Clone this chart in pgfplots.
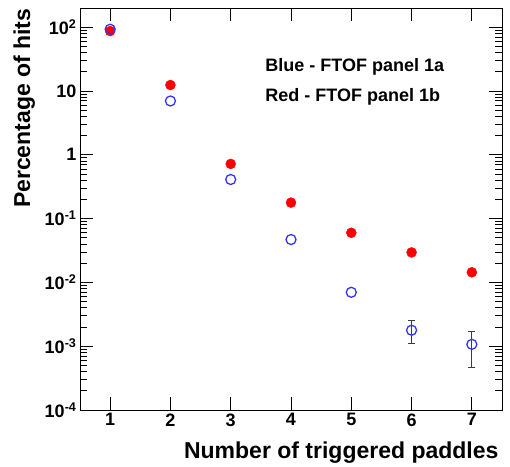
\documentclass[border=0pt]{standalone}
\usepackage{fontspec}
\setmainfont{Liberation Sans}
\usepackage{pgfplots}
\pgfplotsset{compat=1.18}
\definecolor{rootblue}{RGB}{51,51,255}
\definecolor{rootred}{RGB}{255,0,0}
\definecolor{errgray}{RGB}{60,60,60}
\begin{document}
\begin{tikzpicture}[x=1pt,y=1pt]
\path[use as bounding box] (0,0) rectangle (510,466);
\begin{axis}[
    at={(80pt,56pt)}, anchor=south west,
    width=422pt, height=402pt, scale only axis,
    ymode=log, ymin=1e-4, ymax=200,
    xmin=0.5, xmax=7.5,
    xtick={1,2,3,4,5,6,7},
    ytick={1e-4,1e-3,1e-2,1e-1,1,10,100},
    minor ytick={2e-4,3e-4,4e-4,5e-4,6e-4,7e-4,8e-4,9e-4,
                 2e-3,3e-3,4e-3,5e-3,6e-3,7e-3,8e-3,9e-3,
                 2e-2,3e-2,4e-2,5e-2,6e-2,7e-2,8e-2,9e-2,
                 0.2,0.3,0.4,0.5,0.6,0.7,0.8,0.9,
                 2,3,4,5,6,7,8,9,
                 20,30,40,50,60,70,80,90},
    yticklabels={10\textsuperscript{-4},10\textsuperscript{-3},10\textsuperscript{-2},10\textsuperscript{-1},1,10,10\textsuperscript{2}},
    /pgf/number format/assume math mode=true,
    tick label style={font=\bfseries\fontsize{18}{20}\selectfont},
    tick align=inside,
    major tick length=13pt, minor tick length=7pt,
    tick style={black, line width=0.8pt},
    axis line style={line width=0.9pt},
    xlabel={Number of triggered paddles},
    ylabel={Percentage of hits},
    label style={font=\bfseries\fontsize{23}{26}\selectfont},
    xlabel style={at={([yshift=-48pt]rel axis cs:1,0)}, anchor=base east},
    ylabel style={at={([xshift=-50pt,yshift=3pt]rel axis cs:0,1)}, anchor=base east},
    error bars/error bar style={errgray, line width=1pt},
    error bars/error mark options={rotate=90, mark size=3.5pt, line width=1pt, errgray},
]
% Red - FTOF panel 1b
\addplot[only marks, mark=*, mark size=5pt, color=rootred] coordinates {
    (1,87) (2,12.4) (3,0.72) (4,0.178) (5,0.060) (6,0.0295) (7,0.0144)
};
% Blue - FTOF panel 1a
\addplot[only marks, mark=o, mark size=5pt, color=rootblue, line width=1.3pt,
    error bars/.cd, y dir=both, y explicit] coordinates {
    (1,93) (2,6.98) (3,0.41) (4,0.047) (5,0.0070)
    (6,0.00178) += (0,0.00077) -= (0,0.00066)
    (7,0.00107) += (0,0.00063) -= (0,0.00060)
};
\node[anchor=base west, font=\bfseries\fontsize{18}{20}\selectfont] at (rel axis cs:0.431,0.843) {Blue - FTOF panel 1a};
\node[anchor=base west, font=\bfseries\fontsize{18}{20}\selectfont] at (rel axis cs:0.431,0.768) {Red - FTOF panel 1b};
\end{axis}
\end{tikzpicture}
\end{document}
